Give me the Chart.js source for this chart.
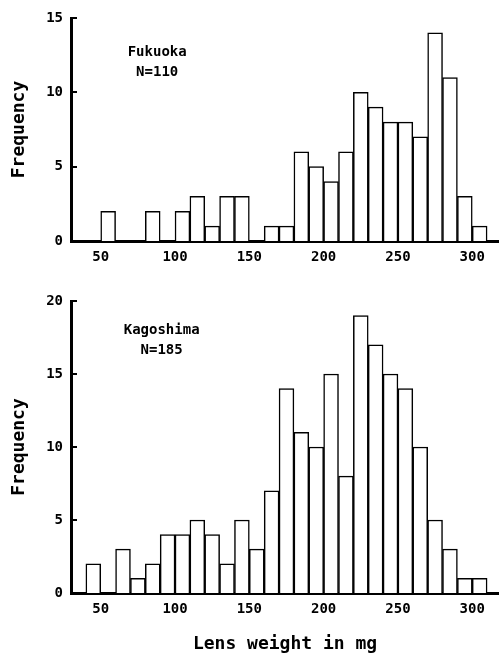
<!DOCTYPE html>
<html>
<head>
<meta charset="utf-8">
<script src="https://cdn.jsdelivr.net/npm/chart.js@4.4.0/dist/chart.umd.min.js"></script>
<style>
  html, body { margin: 0; padding: 0; background: #fff; }
  #wrap { position: relative; width: 499px; height: 655px; }
  .box { position: absolute; left: 0; width: 499px; }
  #topBox { top: 0; height: 280px; }
  #bottomBox { top: 280px; height: 375px; }
</style>
</head>
<body>
<div id="wrap">
  <div class="box" id="topBox"><canvas id="fukuokaChart"></canvas></div>
  <div class="box" id="bottomBox"><canvas id="kagoshimaChart"></canvas></div>
</div>
<script>
// 10 mg bins, lower edge of each bin
const binStarts = [30, 40, 50, 60, 70, 80, 90, 100, 110, 120, 130, 140, 150, 160, 170,
  180, 190, 200, 210, 220, 230, 240, 250, 260, 270, 280, 290, 300, 310];
const fukuokaCounts = [0, 0, 2, 0, 0, 2, 0, 2, 3, 1, 3, 3, 0, 1, 1,
  6, 5, 4, 6, 10, 9, 8, 8, 7, 14, 11, 3, 1, 0];
const kagoshimaCounts = [0, 2, 0, 3, 1, 2, 4, 4, 5, 4, 2, 5, 3, 7, 14,
  11, 10, 15, 8, 19, 17, 15, 14, 10, 5, 3, 1, 1, 0];
const xTicks = [50, 100, 150, 200, 250, 300];
const fukuokaYTicks = [0, 5, 10, 15];
const kagoshimaYTicks = [0, 5, 10, 15, 20];
const fukuokaNote = ['Fukuoka', 'N=110'];
const kagoshimaNote = ['Kagoshima', 'N=185'];
const xTitle = 'Lens weight in mg';
const yTitle = 'Frequency';

Chart.defaults.font.family = "'DejaVu Sans Mono', monospace";
Chart.defaults.color = '#000';

const notesAndTicks = {
  id: 'notesAndTicks',
  afterDraw(chart, args, opts) {
    const ctx = chart.ctx;
    const x = chart.scales.x, y = chart.scales.y;
    const left = chart.chartArea.left;
    ctx.save();
    // short inward ticks on the y axis
    ctx.strokeStyle = '#000';
    ctx.lineWidth = 2;
    ctx.beginPath();
    opts.yTicks.forEach(v => {
      if (v === 0) return;
      const py = Math.round(y.getPixelForValue(v));
      ctx.moveTo(left, py);
      ctx.lineTo(left + 6, py);
    });
    ctx.stroke();
    // sample label
    ctx.fillStyle = '#000';
    ctx.font = "bold 14px 'DejaVu Sans Mono', monospace";
    ctx.textAlign = 'center';
    ctx.textBaseline = 'middle';
    opts.lines.forEach((line, i) => {
      ctx.fillText(line, x.getPixelForValue(opts.at[0]), y.getPixelForValue(opts.at[1] - i * opts.step));
    });
    ctx.restore();
  }
};

function makeChart(canvasId, counts, yTicks, note, noteAt, noteStep, showXTitle, padTop, xHeight) {
  const ctx = document.getElementById(canvasId).getContext('2d');
  return new Chart(ctx, {
    type: 'bar',
    data: {
      datasets: [{
        // empty bins are left out so they draw nothing on the axis
        data: binStarts.map((s, i) => ({ x: s + 5, y: counts[i] || null })),
        backgroundColor: '#fff',
        borderColor: '#000',
        borderWidth: 1.5,
        barPercentage: 1,
        categoryPercentage: 1
      }]
    },
    options: {
      responsive: true,
      maintainAspectRatio: false,
      animation: false,
      layout: { padding: { top: padTop, left: 0, right: 0, bottom: 0 } },
      plugins: {
        legend: { display: false },
        tooltip: { enabled: false },
        notesAndTicks: { yTicks: yTicks, lines: note, at: noteAt, step: noteStep }
      },
      scales: {
        x: {
          type: 'linear',
          min: 30,
          max: 318,
          offset: false,
          z: 1,
          grid: { display: false, drawTicks: false, offset: false },
          border: { display: true, color: '#000', width: 3 },
          ticks: { padding: 8, font: { size: 14, weight: 'bold' } },
          afterBuildTicks: scale => { scale.ticks = xTicks.map(v => ({ value: v })); },
          afterFit: scale => { scale.height = xHeight; },
          title: {
            display: showXTitle,
            text: xTitle,
            font: { size: 18, weight: 'bold' },
            padding: { top: 14, bottom: 0 }
          }
        },
        y: {
          min: 0,
          max: yTicks[yTicks.length - 1],
          z: 1,
          grid: { display: false, drawTicks: false },
          border: { display: true, color: '#000', width: 3 },
          ticks: { padding: 8, font: { size: 14, weight: 'bold' } },
          afterBuildTicks: scale => { scale.ticks = yTicks.map(v => ({ value: v })); },
          afterFit: scale => { scale.width = 71; },
          title: {
            display: true,
            text: yTitle,
            font: { size: 18, weight: 'bold' },
            padding: { top: 9, bottom: 4 }
          }
        }
      }
    },
    plugins: [notesAndTicks]
  });
}

makeChart('fukuokaChart', fukuokaCounts, fukuokaYTicks, fukuokaNote, [88, 12.7], 1.35, false, 18, 39);
makeChart('kagoshimaChart', kagoshimaCounts, kagoshimaYTicks, kagoshimaNote, [91, 18.0], 1.4, true, 21, 62);
</script>
</body>
</html>
